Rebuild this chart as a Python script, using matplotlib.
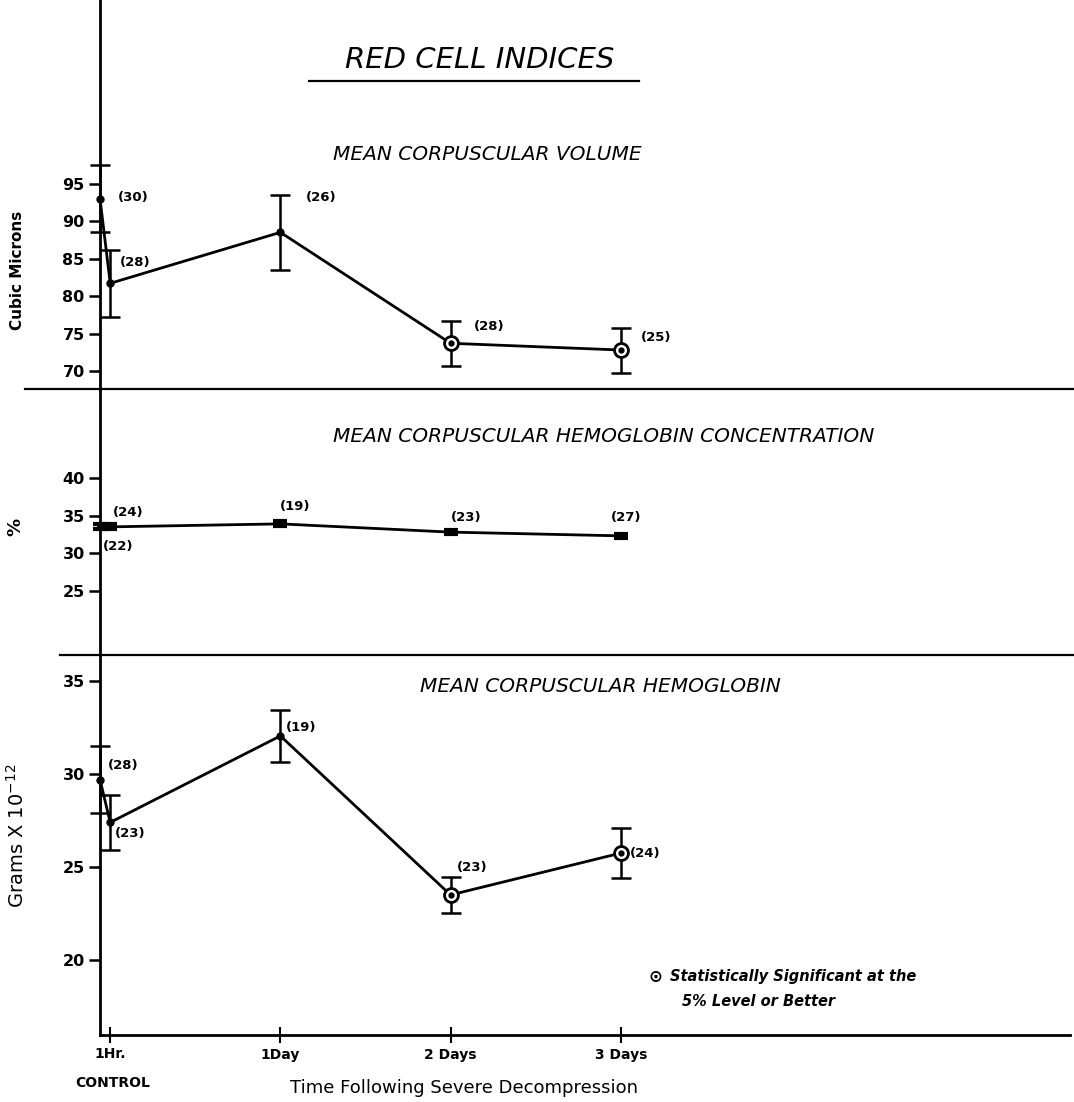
import numpy as np
import matplotlib
matplotlib.use("Agg")
import matplotlib.pyplot as plt
from matplotlib.lines import Line2D

# time positions (days); control sits on the axis just left of 1 hr
times = [-0.06, 0.0, 1.0, 2.0, 3.0]
tick_pos = [0.0, 1.0, 2.0, 3.0]
tick_labels = ["1Hr.", "1Day", "2 Days", "3 Days"]
significant = [False, False, False, True, True]

# mean corpuscular volume (cubic microns)
mcv = [93.0, 81.7, 88.5, 73.7, 72.8]
mcv_err = [4.5, 4.5, 5.0, 3.0, 3.0]
mcv_n = ["(30)", "(28)", "(26)", "(28)", "(25)"]

# mean corpuscular hemoglobin concentration (%)
mchc = [33.5, 33.5, 33.9, 32.8, 32.3]
mchc_err = [0.35, 0.35, 0.35, 0.3, 0.3]
mchc_n = ["(22)", "(24)", "(19)", "(23)", "(27)"]

# mean corpuscular hemoglobin (grams x 10^-12)
mch = [29.7, 27.4, 32.05, 23.5, 25.75]
mch_err = [1.8, 1.5, 1.4, 0.95, 1.35]
mch_n = ["(28)", "(23)", "(19)", "(23)", "(24)"]

W, H = 1074, 1102
fig = plt.figure(figsize=(W / 100, H / 100), dpi=100)
fig.patch.set_facecolor("white")


def rect(top, bottom, left=100, right=1070):
    return [left / W, 1 - bottom / H, (right - left) / W, (bottom - top) / H]


ax1 = fig.add_axes(rect(0, 389))
ax2 = fig.add_axes(rect(389, 655))
ax3 = fig.add_axes(rect(655, 1035))
xlim = (-0.06, 5.64)

for ax in (ax1, ax2, ax3):
    ax.set_xlim(*xlim)
    ax.patch.set_alpha(0)
    for s in ("top", "right"):
        ax.spines[s].set_visible(False)
    ax.spines["left"].set_linewidth(2.0)
    ax.tick_params(axis="y", direction="out", length=8, width=1.8,
                   labelsize=11.5, pad=3)

for ax in (ax1, ax2):
    ax.spines["bottom"].set_visible(False)
    ax.set_xticks([])

ax1.set_ylim(67.6, 119.5)
ax1.set_yticks([70, 75, 80, 85, 90, 95])
ax2.set_ylim(16.4, 51.9)
ax2.set_yticks([25, 30, 35, 40])
ax3.set_ylim(15.97, 36.4)
ax3.set_yticks([20, 25, 30, 35])
for ax in (ax1, ax2, ax3):
    for lab in ax.get_yticklabels():
        lab.set_fontweight("bold")

ax3.spines["bottom"].set_linewidth(2.0)
ax3.set_xticks(tick_pos)
ax3.set_xticklabels(tick_labels, fontsize=10, fontweight="bold")
ax3.tick_params(axis="x", direction="inout", length=12, width=1.5, pad=3)


def draw_series(ax, vals, errs, labels, offsets, capsize=7, lw=2.0):
    ax.plot(times, vals, color="black", lw=lw, clip_on=False, zorder=3)
    ax.errorbar(times, vals, yerr=errs, fmt="none", ecolor="black",
                elinewidth=1.8, capsize=capsize, capthick=1.8,
                clip_on=False, zorder=3)
    for t, v, sig in zip(times, vals, significant):
        if sig:
            ax.plot(t, v, "o", ms=10, mfc="white", mec="black", mew=2.0,
                    zorder=4, clip_on=False)
            ax.plot(t, v, "o", ms=3.5, color="black", zorder=5, clip_on=False)
        else:
            ax.plot(t, v, "o", ms=5, color="black", zorder=4, clip_on=False)
    for t, v, lab, off in zip(times, vals, labels, offsets):
        ax.annotate(lab, (t, v), xytext=off, textcoords="offset pixels",
                    ha="left", va="center", fontsize=9.5, fontweight="bold")


draw_series(ax1, mcv, mcv_err, mcv_n,
            [(18, 1), (10, 21), (25, 35), (23, 17), (20, 13)])
draw_series(ax3, mch, mch_err, mch_n,
            [(8, 14), (5, -11), (5, 8), (6, 27), (9, 0)])

# MCHC: tiny hourglass-like error bars
ax2.plot(times, mchc, color="black", lw=2.0, clip_on=False, zorder=3)
ax2.errorbar(times, mchc, yerr=mchc_err, fmt="none", ecolor="black",
             elinewidth=4, capsize=5, capthick=3, clip_on=False, zorder=4)
for t, v, lab, off in zip(times, mchc, mchc_n,
                          [(3, -20), (3, 14), (-1, 17), (0, 15), (-10, 18)]):
    ax2.annotate(lab, (t, v), xytext=off, textcoords="offset pixels",
                 ha="left", va="center", fontsize=9.5, fontweight="bold")

# axis labels
ax1.set_ylabel("Cubic Microns", fontsize=11, fontweight="bold")
ax1.yaxis.set_label_coords(-0.077, 0.306)
ax2.set_ylabel("%", fontsize=13, fontweight="bold")
ax2.yaxis.set_label_coords(-0.078, 0.48)
ax3.set_ylabel("Grams X 10$^{-12}$", fontsize=14)
ax3.yaxis.set_label_coords(-0.074, 0.524)


def px(x, y):
    return x / W, 1 - y / H


# titles
fig.text(*px(480, 60), "RED CELL INDICES", fontsize=21, style="italic",
         ha="center", va="center")
fig.add_artist(Line2D([309 / W, 639 / W], [1 - 81 / H] * 2, color="black",
                      lw=1.6))
fig.text(*px(333, 155), "MEAN CORPUSCULAR VOLUME", fontsize=14.5,
         style="italic", ha="left", va="center")
fig.text(*px(333, 437), "MEAN CORPUSCULAR HEMOGLOBIN CONCENTRATION",
         fontsize=14.5, style="italic", ha="left", va="center")
fig.text(*px(420, 687), "MEAN CORPUSCULAR HEMOGLOBIN", fontsize=14.5,
         style="italic", ha="left", va="center")

# panel separators
fig.add_artist(Line2D([25 / W, 1.0], [1 - 389 / H] * 2, color="black", lw=1.6))
fig.add_artist(Line2D([60 / W, 1.0], [1 - 655 / H] * 2, color="black", lw=1.6))

# x labels
fig.text(*px(113, 1083), "CONTROL", fontsize=10, fontweight="bold",
         ha="center", va="center")
fig.text(*px(464, 1088), "Time Following Severe Decompression", fontsize=13,
         ha="center", va="center")

# significance key
fig.text(*px(655, 977), "\u2299", fontsize=12, fontweight="bold",
         ha="center", va="center")
fig.text(*px(670, 977), "Statistically Significant at the", fontsize=10.5,
         style="italic", fontweight="bold", ha="left", va="center")
fig.text(*px(682, 1002), "5% Level or Better", fontsize=10.5,
         style="italic", fontweight="bold", ha="left", va="center")

fig.savefig("out.png", dpi=100)
